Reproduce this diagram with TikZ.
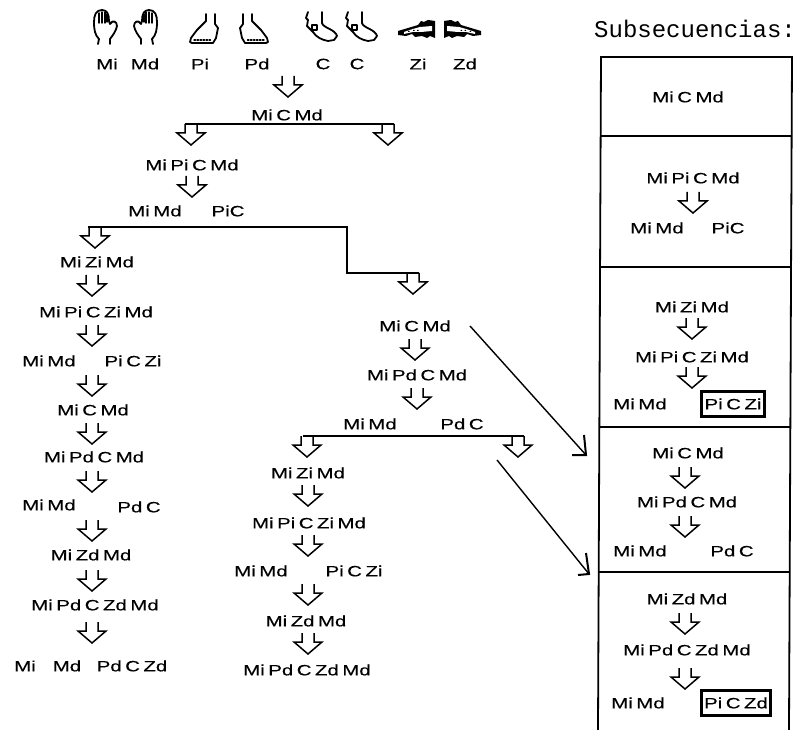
\documentclass[tikz,border=0pt]{standalone}
\usepackage{fontspec}
\setmainfont[FakeStretch=1.36,WordSpace=0.62,FakeBold=0.3]{Liberation Sans}
\newfontfamily\subsfont{Liberation Mono}
\tikzset{
  x=1pt,y=-1pt,
  lab/.style={inner sep=0pt,font=\fontsize{15}{15}\selectfont},
  rule/.style={line width=1.8pt,black},
  thinrule/.style={line width=1.3pt,black},
  framebox/.style={line width=3pt,draw=black,inner sep=3pt,minimum height=25pt,font=\fontsize{15}{15}\selectfont},
  pointer/.style={line width=1.4pt,black},
  icon/.style={line width=1.8pt,black,line join=round,line cap=round},
  harrow/.pic={\draw[line width=1.5pt,black,line join=miter] (-6,0)--(-6,9)--(-14,9)--(0,21)--(14,9)--(6,9)--(6,0);},
  handicon/.pic={\draw[icon] (-6,16) -- (-5,11) .. controls (-9,7) and (-10,2) .. (-10,-6)
      .. controls (-10,-13) and (-8,-18) .. (-2,-18) .. controls (3,-18) and (5,-14) .. (5,-7)
      -- (6,-4) .. controls (9,-9) and (13,-6) .. (13,-2) .. controls (12,3) and (9,7) .. (6,11) -- (6,16);
      \draw[icon,line width=1.4pt] (-5,-15)--(-5,-5) (-2,-16)--(-2,-5) (1,-16)--(1,-5) (3,-14)--(3,-6);},
  footicon/.pic={\draw[icon] (2,-15) -- (2,-8) -- (-7,1) -- (-13,9) -- (-14,13) -- (-12,14) -- (9,14) -- (12,9)
      -- (14,-1) -- (11,-5) -- (11,-15);
      \draw[icon,line width=1.3pt,dash pattern=on 1.5pt off 1.5pt] (-10,11)--(8,11);},
  heelicon/.pic={\draw[icon] (2,-16) -- (2,-5) .. controls (3,0) and (15,1) .. (17,8) -- (14,12) -- (8,13)
      .. controls (2,12) and (-4,9) .. (-7,4) -- (-13,-2) -- (-12,-8) -- (-14,-10) -- (-12,-16);
      \draw[icon,line width=1.4pt] (-8,-3) -- (-3,-3) -- (-3,2) -- (-8,2) -- cycle;},
  booticon/.pic={\fill[black] (-18,2) -- (-8,-1) -- (2,-4) -- (5,-8) -- (8,-7) -- (12,-9) -- (19,-8) -- (19,9) -- (14,7) -- (11,9) -- (6,7) -- (-1,8) -- (-4,5) -- (-10,7) -- (-18,6) -- cycle;
      \fill[white] (-12,3) -- (-3,0) -- (4,-2) -- (16,-3) -- (16,2) -- (5,3) -- (-3,3) -- (-12,5) -- cycle;
      \fill[black] (-8,3) rectangle (-6.5,2) (-3,2) rectangle (-1.5,1) (1,2) rectangle (2.5,1);},
}
\newcommand{\ha}[2]{\pic at (#1,#2) {harrow};}
\newcommand{\tl}[4][]{\node[lab] (#2) at (#3,#4) {#1};}
\begin{document}
\begin{tikzpicture}
\useasboundingbox (0,0) rectangle (801,730);
% icons
\pic at (104,28) {handicon};
\pic[xscale=-1] at (147,28) {handicon};
\pic at (204,29) {footicon};
\pic[xscale=-1] at (254,29) {footicon};
\pic at (320,28) {heelicon};
\pic at (360,28) {heelicon};
\pic at (416,29) {booticon};
\pic[xscale=-1] at (463,29) {booticon};
% legend labels
\tl[Mi]{l1}{107}{64}\tl[Md]{l2}{145}{64}\tl[Pi]{l3}{200}{64}\tl[Pd]{l4}{257}{64}
\tl[C]{l5}{323}{64}\tl[C]{l6}{357}{64}\tl[Zi]{l7}{418}{64}\tl[Zd]{l8}{465}{64}
\node[inner sep=0pt,font=\subsfont\fontsize{24}{24}\selectfont,anchor=west] (title) at (594,29) {Subsecuencias:};
% top of tree
\ha{288}{76}
\tl[Mi C Md]{a1}{287}{115}
\coordinate (b1l) at (185,124); \coordinate (b1r) at (394,124);
\draw[rule] (b1l) -- (b1r);
\ha{191}{124}\ha{388}{124}
\tl[Mi Pi C Md]{a2}{192}{165}
\ha{192}{176}
\tl[Mi Md]{a3}{155}{211}\tl[PiC]{a4}{228}{211}
\coordinate (b2l) at (88,227); \coordinate (b2m) at (347,227);
\coordinate (b2n) at (347,273); \coordinate (b2r) at (419,273);
\draw[rule] (b2l) -- (b2m) -- (b2n) -- (b2r);
% left column
\ha{95}{227}
\tl[Mi Zi Md]{c1}{97}{262}\ha{92}{275}
\tl[Mi Pi C Zi Md]{c2}{96}{312}\ha{92}{325}
\tl[Mi Md]{c3}{49}{361}\tl[Pi C Zi]{c4}{133}{361}\ha{92}{375}
\tl[Mi C Md]{c5}{93}{410}\ha{92}{423}
\tl[Mi Pd C Md]{c6}{94}{457}\ha{92}{471}
\tl[Mi Md]{c7}{49}{505}\tl[Pd C]{c8}{139}{507}\ha{92}{520}
\tl[Mi Zd Md]{c9}{91}{555}\ha{92}{570}
\tl[Mi Pd C Zd Md]{c10}{95}{605}\ha{92}{622}
\tl[Mi]{c11}{25}{666}\tl[Md]{c12}{67}{666}\tl[Pd C Zd]{c13}{132}{666}
% middle column
\ha{413}{273}
\tl[Mi C Md]{d1}{415}{326}\ha{415}{339}
\tl[Mi Pd C Md]{d2}{417}{375}\ha{417}{388}
\tl[Mi Md]{d3}{370}{424}\tl[Pd C]{d4}{462}{424}
\coordinate (b3l) at (303,436); \coordinate (b3r) at (524,436);
\draw[line width=2.2pt] (b3l) -- (b3r);
\ha{307}{436}\ha{518}{436}
\tl[Mi Zi Md]{e1}{308}{473}\ha{308}{485}
\tl[Mi Pi C Zi Md]{e2}{309}{523}\ha{308}{535}
\tl[Mi Md]{e3}{261}{571}\tl[Pi C Zi]{e4}{354}{571}\ha{308}{584}
\tl[Mi Zd Md]{e5}{306}{621}\ha{308}{633}
\tl[Mi Pd C Zd Md]{e6}{307}{670}
% panels
\coordinate (p1) at (601,57); \coordinate (p2) at (792,57);
\coordinate (p3) at (598,730); \coordinate (p4) at (789,730);
\draw[rule] (p3) -- (p1) -- (p2) -- (p4);
\draw[thinrule] (601,136) -- (791,136);
\draw[rule,line width=2pt] (601,267) -- (791,267);
\draw[rule,line width=2pt] (600,427) -- (790,427);
\draw[rule,line width=2.4pt] (599,572) -- (790,572);
\tl[Mi C Md]{f1}{688}{97}
\tl[Mi Pi C Md]{f2}{693}{178}\ha{693}{192}
\tl[Mi Md]{f3}{657}{228}\tl[PiC]{f4}{728}{228}
\tl[Mi Zi Md]{f5}{692}{307}\ha{692}{318}
\tl[Mi Pi C Zi Md]{f6}{692}{357}\ha{692}{367}
\tl[Mi Md]{f7}{640}{404}
\node[framebox] (f8) at (733,404) {Pi C Zi};
\tl[Mi C Md]{g1}{688}{453}\ha{685}{467}
\tl[Mi Pd C Md]{g2}{687}{502}\ha{685}{516}
\tl[Mi Md]{g3}{640}{551}\tl[Pd C]{g4}{732}{551}
\tl[Mi Zd Md]{h1}{687}{599}\ha{685}{613}
\tl[Mi Pd C Zd Md]{h2}{687}{650}\ha{685}{668}
\tl[Mi Md]{h3}{638}{703}
\node[framebox] (h4) at (736,703) {Pi C Zd};
% pointers
\coordinate (q1) at (470,326); \coordinate (q2) at (586,455);
\coordinate (q3) at (497,460); \coordinate (q4) at (589,574);
\draw[pointer] (q1) -- (q2);
\draw[pointer,line width=2pt] (584,435) -- (q2) -- (572,455);
\draw[pointer] (q3) -- (q4);
\draw[pointer,line width=2pt] (586,553) -- (q4) -- (578,575);
\end{tikzpicture}
\end{document}
